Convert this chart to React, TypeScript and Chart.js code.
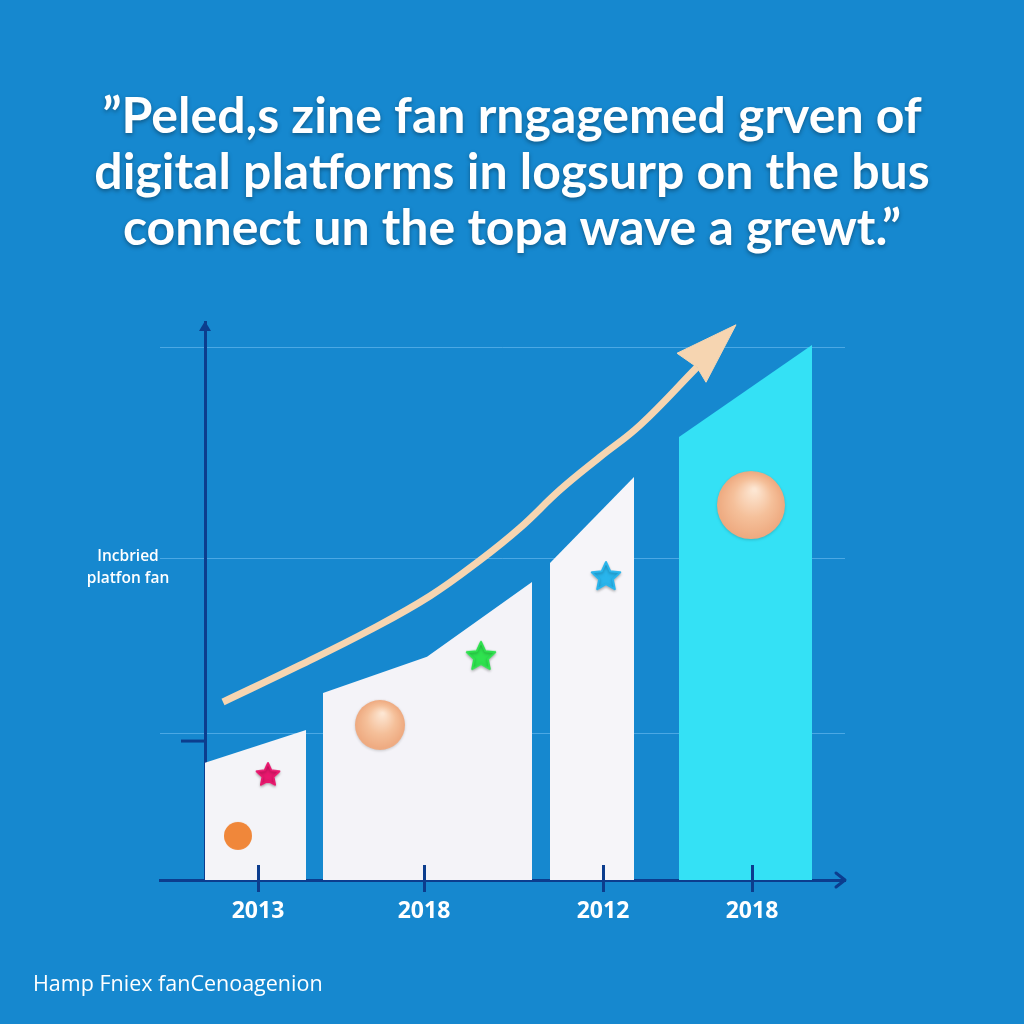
import React, { useEffect, useRef } from 'react';
import { Chart, registerables } from 'chart.js';

Chart.register(...registerables);

// ---- text ----
const titleLines = [
  '”Peled,s zine fan rngagemed grven of',
  'digital platforms in logsurp on the bus',
  'connect un the topa wave a grewt.”',
];
const yAxisLabelLines = ['Incbried', 'platfon fan'];
const footerText = 'Hamp Fniex fanCenoagenion';

// ---- categories / x ticks ----
const years = ['2013', '2018', '2012', '2018'];
const yearPositions = [9.8, 26.4, 44.3, 59.2];

// ---- bars (slanted tops): x edges and top values ----
const bar1X = [4.5, 14.6];
const bar1Y = [21.0, 26.9];
const bar2X = [16.3, 26.7, 37.2];
const bar2Y = [33.5, 40.0, 53.4];
const bar3X = [39.0, 47.4];
const bar3Y = [56.8, 72.2];
const bar4X = [51.9, 65.2];
const bar4Y = [79.4, 95.9];
const barColors = ['#f4f4f8', '#f4f3f8', '#f6f5f9', '#34e1f5'];

// ---- growth arrow ----
const arrowX = [6.3, 14.0, 21.0, 27.0, 32.0, 36.0, 40.0, 44.0, 48.0, 53.7];
const arrowY = [31.9, 38.5, 44.8, 50.9, 57.3, 63.1, 69.9, 75.8, 81.5, 91.9];
const arrowHeadX = [57.6, 51.7, 53.7, 54.6, 57.6];
const arrowHeadY = [99.5, 94.4, 91.9, 89.2, 99.5];

// ---- decorations ----
const decorX = [7.8, 10.8, 22.0, 32.1, 44.6, 59.1];
const decorY = [7.9, 18.8, 27.8, 40.0, 54.3, 67.2];
const decorKinds = ['dot', 'star', 'sphere', 'star', 'star', 'sphere'];
const decorSizes = [14, 12, 25, 15, 15, 34];
const decorColors = ['#f0873a', '#e8186e', '#f5c09a', '#2fe24f', '#29b5ec', '#f5c09a'];

// ---- axes ----
const gridValues = [26.3, 57.7, 95.5];
const yAxisAt = 4.5;
const yTickValue = 24.9;
const xMin = 0;
const xMax = 68.5;
const yMin = 0;
const yMax = 100;

const NAVY = '#0c3d8e';
const BG = '#1688cf';

function makeStar(color: string, r: number): HTMLCanvasElement {
  const c = document.createElement('canvas');
  const s = Math.ceil(r * 2 + 8);
  c.width = s;
  c.height = s;
  const g = c.getContext('2d')!;
  const cx = s / 2;
  const cy = s / 2;
  g.shadowColor = 'rgba(0,0,0,0.25)';
  g.shadowBlur = 3;
  g.shadowOffsetY = 1.5;
  g.beginPath();
  for (let i = 0; i < 10; i++) {
    const rad = i % 2 === 0 ? r : r * 0.48;
    const a = -Math.PI / 2 + (i * Math.PI) / 5;
    const px = cx + rad * Math.cos(a);
    const py = cy + rad * Math.sin(a);
    if (i === 0) g.moveTo(px, py);
    else g.lineTo(px, py);
  }
  g.closePath();
  g.lineJoin = 'round';
  g.fillStyle = color;
  g.strokeStyle = color;
  g.lineWidth = 2;
  g.fill();
  g.stroke();
  return c;
}

function makeSphere(color: string, r: number): HTMLCanvasElement {
  const c = document.createElement('canvas');
  const s = Math.ceil(r * 2 + 8);
  c.width = s;
  c.height = s;
  const g = c.getContext('2d')!;
  const cx = s / 2;
  const cy = s / 2;
  const grad = g.createRadialGradient(cx + r * 0.1, cy - r * 0.45, r * 0.05, cx, cy, r);
  grad.addColorStop(0, '#fde6d2');
  grad.addColorStop(0.55, color);
  grad.addColorStop(1, '#eea97f');
  g.shadowColor = 'rgba(0,0,0,0.18)';
  g.shadowBlur = 3;
  g.shadowOffsetY = 1;
  g.beginPath();
  g.arc(cx, cy, r, 0, Math.PI * 2);
  g.fillStyle = grad;
  g.fill();
  return c;
}

function makeDot(color: string, r: number): HTMLCanvasElement {
  const c = document.createElement('canvas');
  const s = Math.ceil(r * 2 + 4);
  c.width = s;
  c.height = s;
  const g = c.getContext('2d')!;
  g.beginPath();
  g.arc(s / 2, s / 2, r, 0, Math.PI * 2);
  g.fillStyle = color;
  g.fill();
  return c;
}

const axisExtras = {
  id: 'axisExtras',
  afterDraw(chart: any) {
    const { ctx, chartArea, scales } = chart;
    const x = scales.x;
    const y = scales.y;
    ctx.save();
    ctx.strokeStyle = NAVY;
    ctx.fillStyle = NAVY;
    ctx.lineWidth = 3;
    // x tick marks reaching above the axis
    yearPositions.forEach((v) => {
      const px = Math.round(x.getPixelForValue(v)) + 0.5;
      ctx.beginPath();
      ctx.moveTo(px, chartArea.bottom - 15);
      ctx.lineTo(px, chartArea.bottom);
      ctx.stroke();
    });
    // y tick mark
    const ax = x.getPixelForValue(yAxisAt);
    const ty = y.getPixelForValue(yTickValue);
    ctx.beginPath();
    ctx.moveTo(ax - 24, ty);
    ctx.lineTo(ax, ty);
    ctx.stroke();
    // x axis arrow (chevron)
    const r = chartArea.right;
    const b = chartArea.bottom;
    ctx.lineCap = 'round';
    ctx.lineJoin = 'round';
    ctx.beginPath();
    ctx.moveTo(r - 9, b - 7);
    ctx.lineTo(r, b);
    ctx.lineTo(r - 9, b + 7);
    ctx.stroke();
    // y axis arrow (filled)
    const t = chartArea.top;
    ctx.beginPath();
    ctx.moveTo(ax, t - 1);
    ctx.lineTo(ax - 6, t + 9);
    ctx.lineTo(ax + 6, t + 9);
    ctx.closePath();
    ctx.fill();
    ctx.restore();
  },
};

export default function App() {
  const ref = useRef<HTMLCanvasElement | null>(null);

  useEffect(() => {
    if (!ref.current) return;
    const toPts = (xs: number[], ys: number[]) => xs.map((v, i) => ({ x: v, y: ys[i] }));
    const barsX = [bar1X, bar2X, bar3X, bar4X];
    const barsY = [bar1Y, bar2Y, bar3Y, bar4Y];

    const barDatasets = barsX.map((bx, i) => ({
      type: 'line' as const,
      label: 'bar' + (i + 1),
      data: toPts(bx, barsY[i]),
      borderWidth: 0,
      borderColor: barColors[i],
      backgroundColor: barColors[i],
      pointRadius: 0,
      tension: 0,
      fill: 'origin',
      order: 3,
    }));

    const decorImages = decorKinds.map((k, i) =>
      k === 'star'
        ? makeStar(decorColors[i], decorSizes[i])
        : k === 'sphere'
        ? makeSphere(decorColors[i], decorSizes[i])
        : makeDot(decorColors[i], decorSizes[i])
    );

    const chart = new Chart(ref.current, {
      type: 'line',
      data: {
        datasets: [
          ...barDatasets,
          {
            type: 'line',
            label: 'arrow',
            data: toPts(arrowX, arrowY),
            borderColor: '#f6d5b1',
            borderWidth: 7,
            pointRadius: 0,
            tension: 0.4,
            fill: false,
            order: 2,
          },
          {
            type: 'line',
            label: 'arrowHead',
            data: toPts(arrowHeadX, arrowHeadY),
            borderColor: '#f6d5b1',
            backgroundColor: '#f6d5b1',
            borderWidth: 1,
            pointRadius: 0,
            tension: 0,
            fill: 'shape',
            order: 2,
          },
          {
            type: 'scatter',
            label: 'decor',
            data: toPts(decorX, decorY),
            pointStyle: decorImages as any,
            pointRadius: decorSizes,
            showLine: false,
            order: 1,
          },
        ] as any,
      },
      options: {
        responsive: false,
        animation: false,
        events: [],
        layout: { padding: { left: 160, right: 179, top: 322, bottom: 0 } },
        plugins: {
          legend: { display: false },
          tooltip: { enabled: false },
          title: { display: false },
        },
        scales: {
          x: {
            type: 'linear',
            min: xMin,
            max: xMax,
            z: 1,
            afterFit: (s: any) => {
              s.height = 144;
            },
            afterBuildTicks: (s: any) => {
              s.ticks = yearPositions.map((v) => ({ value: v }));
            },
            grid: {
              drawOnChartArea: false,
              drawTicks: true,
              tickLength: 12,
              tickColor: NAVY,
              tickWidth: 3,
            },
            border: { display: true, color: NAVY, width: 3 },
            ticks: {
              autoSkip: false,
              maxRotation: 0,
              padding: 6,
              color: '#ffffff',
              font: { family: 'Open Sans', size: 23, weight: 'bold' },
              callback: (_v: any, i: number) => years[i],
            },
          },
          y: {
            type: 'linear',
            min: yMin,
            max: yMax,
            position: { x: yAxisAt } as any,
            afterBuildTicks: (s: any) => {
              s.ticks = gridValues.map((v) => ({ value: v }));
            },
            grid: {
              color: 'rgba(120,195,245,0.55)',
              lineWidth: 1,
              drawTicks: false,
            },
            border: { display: true, color: NAVY, width: 3 },
            ticks: { display: false },
          },
        },
      } as any,
      plugins: [axisExtras],
    });
    return () => chart.destroy();
  }, []);

  return (
    <div
      style={{
        position: 'absolute',
        left: 0,
        top: 0,
        width: 1024,
        height: 1024,
        overflow: 'hidden',
        background: BG,
      }}
    >
      <div
        style={{
          position: 'absolute',
          left: 0,
          top: 86,
          width: 1024,
          textAlign: 'center',
          color: '#ffffff',
          fontFamily: 'Lato, "Open Sans", sans-serif',
          fontWeight: 700,
          fontSize: 50,
          lineHeight: '56px',
          textShadow: '0 2px 4px rgba(0,0,0,0.35)',
          whiteSpace: 'nowrap',
        }}
      >
        {titleLines.map((l, i) => (
          <div key={i}>{l}</div>
        ))}
      </div>
      <canvas
        ref={ref}
        width={1024}
        height={1024}
        style={{ position: 'absolute', left: 0, top: 0, width: 1024, height: 1024 }}
      />
      <div
        style={{
          position: 'absolute',
          left: 78,
          top: 544,
          width: 100,
          textAlign: 'center',
          color: '#ffffff',
          fontFamily: '"Open Sans", sans-serif',
          fontWeight: 600,
          fontSize: 15.5,
          lineHeight: '22px',
        }}
      >
        {yAxisLabelLines.map((l, i) => (
          <div key={i}>{l}</div>
        ))}
      </div>
      <div
        style={{
          position: 'absolute',
          left: 33,
          top: 970,
          color: '#ffffff',
          fontFamily: '"Open Sans", sans-serif',
          fontSize: 21.5,
          lineHeight: '26px',
          whiteSpace: 'nowrap',
        }}
      >
        {footerText}
      </div>
    </div>
  );
}
